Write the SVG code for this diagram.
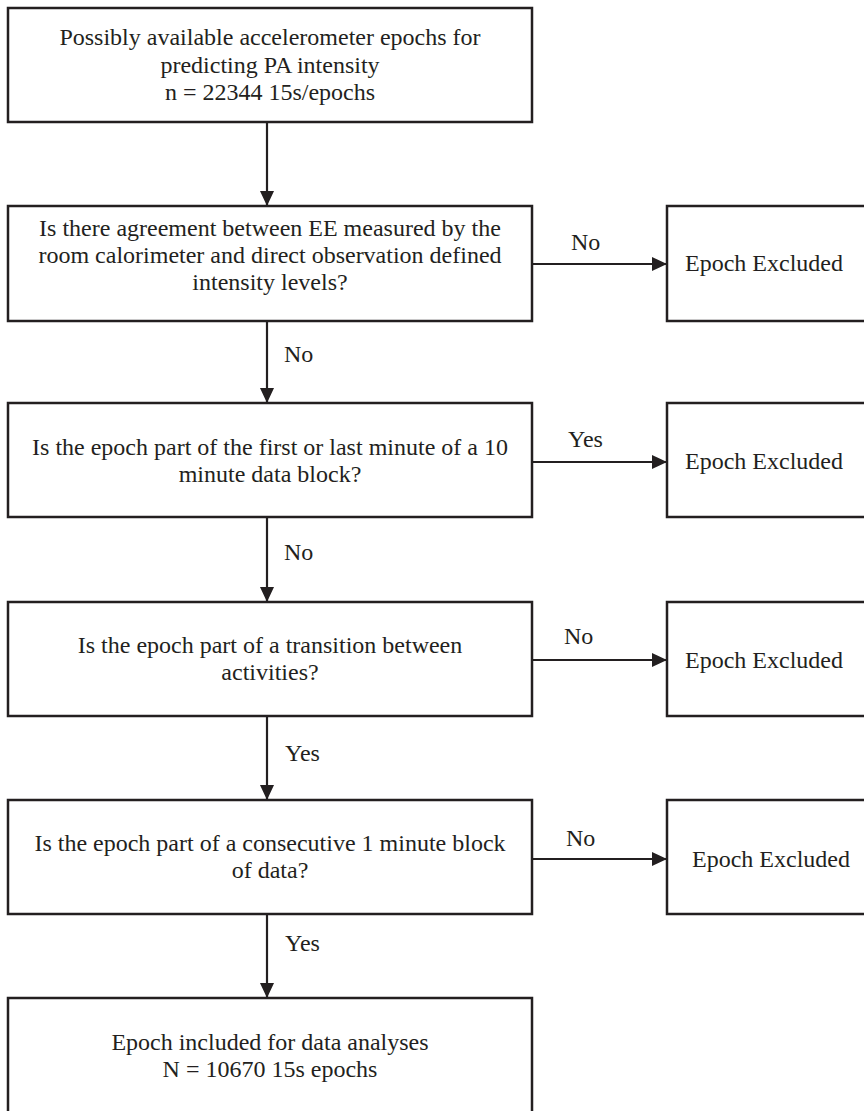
<svg xmlns="http://www.w3.org/2000/svg" width="864" height="1111" viewBox="0 0 864 1111">
<style>
.box{fill:#fff;stroke:#231f20;stroke-width:2.5}
text{font-family:'Liberation Serif','DejaVu Serif',serif;font-size:24px;fill:#231f20}
.c{text-anchor:middle}
.ln{stroke:#231f20;stroke-width:2.2;fill:none}
</style>
<defs>
<marker id="ah" markerWidth="15" markerHeight="14" refX="15" refY="7" orient="auto" markerUnits="userSpaceOnUse">
<path d="M0,0 L15,7 L0,14 Z" fill="#231f20"/>
</marker>
</defs>
<rect width="864" height="1111" fill="#fff"/>
<g id="connectors" font-family="Liberation Serif, serif">
<line class="ln" x1="267" y1="122" x2="267" y2="206" marker-end="url(#ah)"/>
<line class="ln" x1="267" y1="321" x2="267" y2="403" marker-end="url(#ah)"/>
<line class="ln" x1="267" y1="517" x2="267" y2="602" marker-end="url(#ah)"/>
<line class="ln" x1="267" y1="716" x2="267" y2="800" marker-end="url(#ah)"/>
<line class="ln" x1="267" y1="914" x2="267" y2="998" marker-end="url(#ah)"/>
<line class="ln" x1="532" y1="264" x2="667" y2="264" marker-end="url(#ah)"/>
<line class="ln" x1="532" y1="462" x2="667" y2="462" marker-end="url(#ah)"/>
<line class="ln" x1="532" y1="660" x2="667" y2="660" marker-end="url(#ah)"/>
<line class="ln" x1="532" y1="859" x2="667" y2="859" marker-end="url(#ah)"/>
<text x="571" y="250">No</text>
<text x="568" y="447">Yes</text>
<text x="564" y="644">No</text>
<text x="566" y="846">No</text>
<text x="284" y="362">No</text>
<text x="284" y="560">No</text>
<text x="285" y="761">Yes</text>
<text x="285" y="951">Yes</text>
</g>
<g id="start">
<rect class="box" x="8" y="8" width="524" height="114"/>
<text class="c" x="270" y="45">Possibly available accelerometer epochs for</text>
<text class="c" x="270" y="73">predicting PA intensity</text>
<text class="c" x="270" y="100">n = 22344 15s/epochs</text>
</g>
<g id="q1">
<rect class="box" x="8" y="206" width="524" height="115"/>
<text class="c" x="270" y="236">Is there agreement between EE measured by the</text>
<text class="c" x="270" y="263">room calorimeter and direct observation defined</text>
<text class="c" x="270" y="290">intensity levels?</text>
</g>
<g id="ex1">
<rect class="box" x="667" y="206" width="220" height="115"/>
<text x="685" y="271">Epoch Excluded</text>
</g>
<g id="q2">
<rect class="box" x="8" y="403" width="524" height="114"/>
<text class="c" x="270" y="455">Is the epoch part of the first or last minute of a 10</text>
<text class="c" x="270" y="482">minute data block?</text>
</g>
<g id="ex2">
<rect class="box" x="667" y="403" width="220" height="114"/>
<text x="685" y="469">Epoch Excluded</text>
</g>
<g id="q3">
<rect class="box" x="8" y="602" width="524" height="114"/>
<text class="c" x="270" y="653">Is the epoch part of a transition between</text>
<text class="c" x="270" y="680">activities?</text>
</g>
<g id="ex3">
<rect class="box" x="667" y="602" width="220" height="114"/>
<text x="685" y="668">Epoch Excluded</text>
</g>
<g id="q4">
<rect class="box" x="8" y="800" width="524" height="114"/>
<text class="c" x="270" y="851">Is the epoch part of a consecutive 1 minute block</text>
<text class="c" x="270" y="878">of data?</text>
</g>
<g id="ex4">
<rect class="box" x="667" y="800" width="220" height="114"/>
<text x="692" y="867">Epoch Excluded</text>
</g>
<g id="end">
<rect class="box" x="8" y="998" width="524" height="140"/>
<text class="c" x="270" y="1050">Epoch included for data analyses</text>
<text class="c" x="270" y="1077">N = 10670 15s epochs</text>
</g>
</svg>
